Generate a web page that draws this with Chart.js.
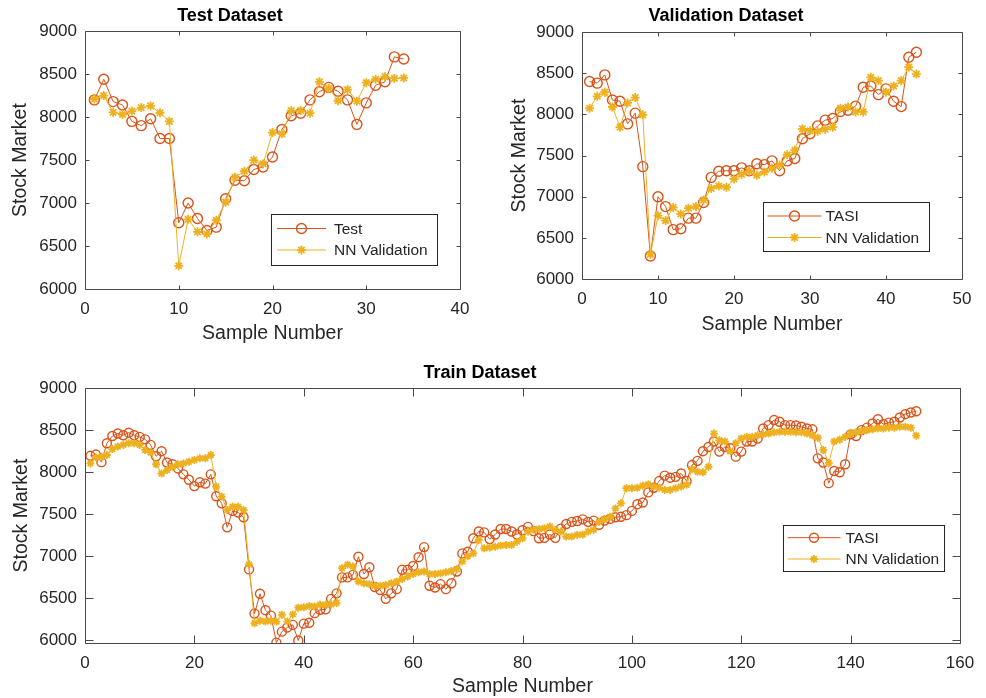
<!DOCTYPE html>
<html>
<head>
<meta charset="utf-8">
<script src="https://cdn.jsdelivr.net/npm/chart.js@4/dist/chart.umd.min.js"></script>
<style>
  html, body { margin: 0; padding: 0; background: #ffffff; }
  body { width: 986px; height: 698px; position: relative; overflow: hidden; }
  .box { position: absolute; }
</style>
</head>
<body>
<div class="box" style="left:0px;top:0px;width:480px;height:345px;"><canvas id="cTest"></canvas></div>
<div class="box" style="left:490px;top:0px;width:496px;height:345px;"><canvas id="cVal"></canvas></div>
<div class="box" style="left:0px;top:350px;width:986px;height:348px;"><canvas id="cTrain"></canvas></div>
<script>
// ---------------- DATA ----------------
const yTicks = [6000, 6500, 7000, 7500, 8000, 8500, 9000];
const testXTicks = [0, 10, 20, 30, 40];
const valXTicks = [0, 10, 20, 30, 40, 50];
const trainXTicks = [0, 20, 40, 60, 80, 100, 120, 140, 160];

const testActual = [8200, 8440, 8180, 8140, 7950, 7900, 7980, 7750, 7750, 6770,
  7000, 6820, 6680, 6720, 7050, 7265, 7260, 7390, 7420, 7535,
  7855, 8015, 8045, 8200, 8295, 8345, 8300, 8200, 7915, 8165,
  8370, 8410, 8700, 8675];
const testNN = [8210, 8250, 8055, 8030, 8070, 8110, 8130, 8050, 7950, 6270,
  6810, 6665, 6640, 6800, 7010, 7300, 7370, 7500, 7455, 7820,
  7805, 8075, 8075, 8045, 8410, 8335, 8190, 8320, 8185, 8400,
  8440, 8470, 8450, 8455];

const valTASI = [8400, 8380, 8480, 8175, 8160, 7885, 8015, 7365, 6280, 7000,
  6880, 6600, 6610, 6740, 6740, 6930, 7235, 7310, 7315, 7315,
  7350, 7315, 7400, 7390, 7435, 7315, 7435, 7465, 7705, 7765,
  7860, 7930, 7950, 8035, 8050, 8100, 8330, 8345, 8240, 8310,
  8160, 8095, 8695, 8755];
const valNN = [8075, 8220, 8270, 8090, 7845, 8140, 8205, 7995, 6300, 6770,
  6710, 6870, 6790, 6860, 6880, 6960, 7100, 7130, 7115, 7215,
  7270, 7310, 7260, 7300, 7345, 7385, 7510, 7565, 7825, 7800,
  7795, 7820, 7845, 8075, 8090, 8030, 8030, 8450, 8410, 8270,
  8345, 8410, 8575, 8490];

const trainTASI = [8195, 8210, 8120, 8345, 8430, 8460, 8440, 8470, 8440, 8420,
  8390, 8325, 8190, 8250, 8115, 8095, 8045, 7975, 7910, 7835,
  7880, 7865, 7975, 7715, 7630, 7345, 7540, 7520, 7465, 6845,
  6320, 6555, 6360, 6295, 5975, 6105, 6155, 6185, 6000, 6200,
  6210, 6325, 6365, 6370, 6495, 6560, 6750, 6750, 6780, 6995,
  6790, 6870, 6635, 6600, 6495, 6560, 6610, 6840, 6840, 6885,
  6990, 7110, 6650, 6630, 6670, 6610, 6680, 6820, 7035, 7055,
  7215, 7295, 7285, 7205, 7260, 7325, 7325, 7295, 7260, 7310,
  7350, 7300, 7215, 7220, 7260, 7220, 7330, 7385, 7410, 7420,
  7440, 7410, 7425, 7375, 7425, 7445, 7465, 7470, 7490, 7540,
  7620, 7640, 7760, 7815, 7895, 7960, 7935, 7945, 7985, 7895,
  8085, 8135, 8250, 8300, 8365, 8245, 8300, 8285, 8185, 8245,
  8365, 8365, 8400, 8520, 8560, 8620, 8600, 8560, 8560, 8555,
  8540, 8520, 8510, 8165, 8115, 7870, 8015, 8000, 8095, 8450,
  8430, 8500, 8530, 8580, 8630, 8570, 8590, 8600, 8650, 8690,
  8710, 8725];
const trainNN = [8105, 8175, 8185, 8205, 8275, 8305, 8325, 8345, 8345, 8325,
  8265, 8235, 8095, 7985, 8025, 8065, 8095, 8105, 8125, 8145,
  8165, 8165, 8205, 7830, 7710, 7550, 7590, 7590, 7550, 6905,
  6205, 6235, 6225, 6235, 6225, 6305, 6225, 6310, 6390, 6395,
  6410, 6405, 6425, 6425, 6430, 6445, 6860, 6900, 6880, 6700,
  6680, 6670, 6650, 6650, 6660, 6680, 6700, 6730, 6760, 6790,
  6810, 6820, 6790, 6790, 6800, 6810, 6825, 6850, 6940, 7000,
  7035, 7195, 7095, 7105, 7115, 7130, 7135, 7135, 7175, 7215,
  7295, 7315, 7325, 7335, 7355, 7315, 7295, 7235, 7235, 7255,
  7260, 7295, 7315, 7410, 7440, 7470, 7570, 7630, 7810, 7810,
  7815, 7840, 7855, 7830, 7815, 7790, 7790, 7810, 7830, 7850,
  8035, 8005, 8000, 8065, 8460, 8380, 8365, 8250, 8345, 8400,
  8420, 8420, 8440, 8450, 8460, 8475, 8480, 8480, 8480, 8475,
  8475, 8460, 8440, 8410, 8265, 8110, 8365, 8385, 8420, 8460,
  8475, 8490, 8500, 8510, 8520, 8520, 8530, 8530, 8540, 8540,
  8530, 8435];

// ---------------- STYLE ----------------
const RED = '#D95319';
const YEL = '#EDB120';
const AXIS = '#4a4a4a';
const TXT = '#262626';
const FONT = "'Liberation Sans', Arial, Helvetica, sans-serif";

function toXY(arr) { return arr.map((v, i) => ({ x: i + 1, y: v })); }

// draws the MATLAB-style box, inward ticks and the in-axes legend
const matlabPlugin = {
  id: 'matlabBox',
  afterDatasetsDraw(chart, args, opts) {
    const ctx = chart.ctx;
    const a = chart.chartArea;
    const xs = chart.scales.x, ys = chart.scales.y;
    const tl = opts.tickLen;
    ctx.save();
    ctx.strokeStyle = AXIS;
    ctx.lineWidth = 1;
    ctx.beginPath();
    const L = Math.round(a.left) + 0.5, R = Math.round(a.right) + 0.5;
    const T = Math.round(a.top) + 0.5, B = Math.round(a.bottom) + 0.5;
    ctx.rect(L, T, R - L, B - T);
    xs.ticks.forEach(t => {
      const px = Math.round(xs.getPixelForValue(t.value)) + 0.5;
      ctx.moveTo(px, B); ctx.lineTo(px, B - tl);
      ctx.moveTo(px, T); ctx.lineTo(px, T + tl);
    });
    ys.ticks.forEach(t => {
      const py = Math.round(ys.getPixelForValue(t.value)) + 0.5;
      ctx.moveTo(L, py); ctx.lineTo(L + tl, py);
      ctx.moveTo(R, py); ctx.lineTo(R - tl, py);
    });
    ctx.stroke();

    // legend
    const lg = opts.legend;
    ctx.fillStyle = '#ffffff';
    ctx.fillRect(lg.x, lg.y, lg.w, lg.h);
    ctx.strokeStyle = '#262626';
    ctx.lineWidth = 1;
    ctx.strokeRect(Math.round(lg.x) + 0.5, Math.round(lg.y) + 0.5, lg.w, lg.h);
    ctx.font = '15.5px ' + FONT;
    ctx.textBaseline = 'middle';
    ctx.textAlign = 'left';
    chart.data.datasets.forEach((ds, i) => {
      const row = ds.legendRow;
      const cy = lg.y + lg.rows[row];
      ctx.strokeStyle = ds.borderColor;
      ctx.lineWidth = 1;
      ctx.beginPath();
      ctx.moveTo(lg.x + lg.lineFrom, cy);
      ctx.lineTo(lg.x + lg.lineTo, cy);
      ctx.stroke();
      const mx = lg.x + (lg.lineFrom + lg.lineTo) / 2;
      ctx.lineWidth = ds.pointBorderWidth;
      ctx.fillStyle = ds.pointBackgroundColor;
      Chart.helpers.drawPoint(ctx, {
        pointStyle: ds.pointStyle, radius: ds.pointRadius, rotation: 0, borderWidth: ds.pointBorderWidth
      }, mx, cy);
      ctx.fillStyle = TXT;
      ctx.fillText(ds.label, lg.x + lg.textX, cy + 1);
    });
    ctx.restore();
  }
};

function makeChart(id, cfg) {
  const ds = [
    {
      label: cfg.names[0], data: toXY(cfg.a), legendRow: 0, order: 1,
      borderColor: RED, backgroundColor: 'rgba(0,0,0,0)', borderWidth: 1,
      pointStyle: 'circle', pointRadius: cfg.circR, pointBorderWidth: 1.4,
      pointBackgroundColor: 'rgba(0,0,0,0)', pointBorderColor: RED, pointHoverRadius: cfg.circR
    },
    {
      label: cfg.names[1], data: toXY(cfg.b), legendRow: 1, order: 0,
      borderColor: YEL, backgroundColor: YEL, borderWidth: 1,
      pointStyle: 'star', pointRadius: cfg.starR, pointBorderWidth: 1.8,
      pointBackgroundColor: YEL, pointBorderColor: YEL, pointHoverRadius: cfg.starR
    }
  ];
  return new Chart(document.getElementById(id), {
    type: 'line',
    data: { datasets: ds },
    plugins: [matlabPlugin],
    options: {
      responsive: true, maintainAspectRatio: false, animation: false,
      events: [],
      layout: { padding: { left: 0, right: cfg.padRight, top: 0, bottom: 0 } },
      plugins: {
        legend: { display: false },
        tooltip: { enabled: false },
        title: {
          display: true, text: cfg.title, color: '#000000',
          font: { family: FONT, size: 18, weight: 'bold' },
          padding: cfg.titlePad
        },
        matlabBox: { tickLen: cfg.tickLen, legend: cfg.legend }
      },
      scales: {
        x: {
          type: 'linear', min: cfg.xTicks[0], max: cfg.xTicks[cfg.xTicks.length - 1],
          afterBuildTicks: s => { s.ticks = cfg.xTicks.map(v => ({ value: v })); },
          afterFit: s => { s.height = cfg.xH; },
          grid: { display: false, drawTicks: false },
          border: { display: false },
          ticks: { color: TXT, padding: cfg.xTickPad, font: { family: FONT, size: 17 }, maxRotation: 0, autoSkip: false,
                   callback: v => String(v) },
          title: { display: true, text: 'Sample Number', color: TXT, font: { family: FONT, size: 19.5 }, padding: { top: 0, bottom: cfg.xTitlePad } }
        },
        y: {
          type: 'linear', min: cfg.yMin, max: 9000,
          afterBuildTicks: s => { s.ticks = yTicks.map(v => ({ value: v })); },
          afterFit: s => { s.width = cfg.yW; },
          grid: { display: false, drawTicks: false },
          border: { display: false },
          ticks: { color: TXT, padding: 8, font: { family: FONT, size: 17 }, autoSkip: false,
                   callback: v => String(v) },
          title: { display: true, text: 'Stock Market', color: TXT, font: { family: FONT, size: 19.5 }, padding: { top: cfg.yTitlePad, bottom: 0 } }
        }
      }
    }
  });
}

makeChart('cTest', {
  title: 'Test Dataset', names: ['Test', 'NN Validation'], a: testActual, b: testNN,
  xTicks: testXTicks, yMin: 6000, padRight: 20, yW: 85, xH: 56,
  titlePad: { top: 5, bottom: 4.5 }, xTickPad: 10, xTitlePad: 0, yTitlePad: 9,
  tickLen: 4, circR: 5, starR: 4.5,
  legend: { x: 271, y: 214, w: 166, h: 51, rows: [14.5, 36], lineFrom: 6, lineTo: 55, textX: 63 }
});

makeChart('cVal', {
  title: 'Validation Dataset', names: ['TASI', 'NN Validation'], a: valTASI, b: valNN,
  xTicks: valXTicks, yMin: 6000, padRight: 24, yW: 92, xH: 66,
  titlePad: { top: 5, bottom: 5.5 }, xTickPad: 10, xTitlePad: 9, yTitlePad: 18,
  tickLen: 4, circR: 5, starR: 4.5,
  legend: { x: 272.5, y: 201.5, w: 166, h: 49, rows: [14.5, 36], lineFrom: 5, lineTo: 59, textX: 63 }
});

makeChart('cTrain', {
  title: 'Train Dataset', names: ['TASI', 'NN Validation'], a: trainTASI, b: trainNN,
  xTicks: trainXTicks, yMin: 5970, padRight: 26, yW: 85, xH: 55,
  titlePad: { top: 12.5, bottom: 4 }, xTickPad: 10, xTitlePad: 0, yTitlePad: 10,
  tickLen: 8, circR: 4.5, starR: 4,
  legend: { x: 782.5, y: 175, w: 161, h: 46, rows: [12.7, 34], lineFrom: 5, lineTo: 58, textX: 63 }
});
</script>
</body>
</html>
